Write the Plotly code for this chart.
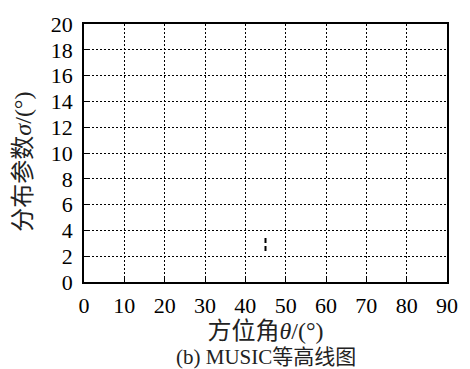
import plotly.graph_objects as go

# Data: tiny contour segment visible near theta=45
contour_theta = [45, 45]
contour_sigma = [2.4, 3.6]
x_ticks = [0, 10, 20, 30, 40, 50, 60, 70, 80, 90]
y_ticks = [0, 2, 4, 6, 8, 10, 12, 14, 16, 18, 20]

fig = go.Figure()
fig.add_trace(go.Scatter(x=contour_theta, y=contour_sigma, mode="lines",
                         line=dict(color="black", width=2, dash="5px,3px"),
                         showlegend=False))

serif = "Liberation Serif"
cjk = "Liberation Serif, Noto Sans CJK SC"
fig.update_layout(
    width=470, height=369,
    margin=dict(l=84, r=14, t=15, b=87),
    paper_bgcolor="white", plot_bgcolor="white",
    font=dict(family=serif, color="black"),
    xaxis=dict(range=[0, 90], tickvals=x_ticks, ticktext=[str(v) for v in x_ticks],
               showgrid=True, gridcolor="black", griddash="2px,2px", gridwidth=1,
               showline=True, linecolor="black", linewidth=1.5, mirror=True,
               ticks="inside", ticklen=4, tickcolor="black", ticklabelstandoff=3,
               tickfont=dict(size=22, family=serif), zeroline=False,
               title=dict(text="方位角<i>θ</i>/(°)", font=dict(size=24, family=cjk, color="#222"), standoff=2)),
    yaxis=dict(range=[0, 20], tickvals=y_ticks, ticktext=[str(v) for v in y_ticks],
               showgrid=True, gridcolor="black", griddash="2px,2px", gridwidth=1,
               showline=True, linecolor="black", linewidth=1.5, mirror=True,
               ticks="inside", ticklen=4, tickcolor="black", ticklabelstandoff=5,
               tickfont=dict(size=22, family=serif), zeroline=False),
)
fig.add_annotation(text="分布参数<i>σ</i>/(°)", xref="paper", yref="paper",
                   x=-0.167, y=0.468, xanchor="center", yanchor="middle",
                   textangle=-90, showarrow=False,
                   font=dict(size=24, family=cjk, color="#222"))
fig.add_annotation(text="(b) MUSIC等高线图", xref="paper", yref="paper",
                   x=0.5, y=-0.292, yanchor="middle", showarrow=False,
                   font=dict(size=21, family=cjk, color="#222"))

fig.write_html("out.html")
